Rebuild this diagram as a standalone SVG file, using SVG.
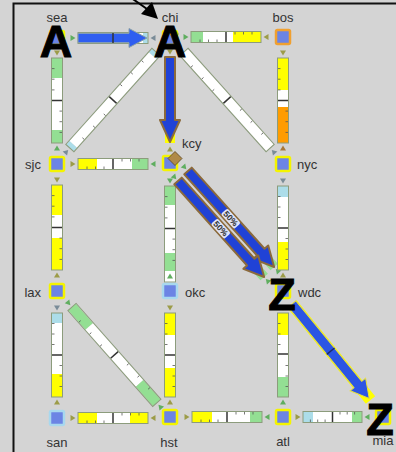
<svg xmlns="http://www.w3.org/2000/svg" xmlns:xlink="http://www.w3.org/1999/xlink" width="396" height="452" viewBox="0 0 396 452">
<style>
.bar{fill:none;stroke:#8c9c7c;stroke-width:1}
.y{fill:#ffff00}.w{fill:#ffffff}.g{fill:#93df93}.b{fill:#acdde9}.o{fill:#ff9c00}
.dv{stroke:#333;stroke-width:1.5}
.tk{stroke:#555;stroke-width:0.8;fill:none}
.tO{fill:#9c9c48}.tG{fill:#5fae5f}.tS{fill:#7a8c98}.tB{fill:#a87838}
.node{fill:#6c84e4;stroke:#f4f400;stroke-width:2.5}
.nb{stroke:#a8d8ee}.no{stroke:#f0a030}
.lbl{font-family:"Liberation Sans",Arial,sans-serif;font-size:13px;fill:#333}
.big{font-family:"Liberation Sans",Arial,sans-serif;font-weight:bold;font-size:45px;fill:#000;stroke:#000;stroke-width:1;text-anchor:middle}
.arr{fill:#2042d6;stroke:#8b6a3c;stroke-width:2;stroke-linejoin:round}
.pct{font-family:"Liberation Sans",Arial,sans-serif;font-size:8.5px;font-weight:bold;fill:#333;text-anchor:middle}
</style>
<defs>
<path id="tr" d="M-2.5,-3L2.5,0L-2.5,3Z"/>
</defs>
<rect x="0" y="0" width="396" height="452" fill="#d4d4d4"/>
<path d="M13.5,452V3.5H396" fill="none" stroke="#111" stroke-width="2"/>
<g id="connectors">
 <g id="l-sea-chi" transform="translate(78,38)">
  <rect class="w" x="0" y="-5" width="65" height="10"/><rect class="b" x="65" y="-5" width="5" height="10"/>
  <rect class="bar" x="0" y="-5.5" width="70" height="11"/>
  <use xlink:href="#tr" class="tG" x="-5"/><use xlink:href="#tr" class="tS" transform="translate(75,0) rotate(180)"/>
  <path d="M0,-4.7H51V-9.5L69,0L51,9.5V4.7H0Z" fill="#2f5ef0" stroke="#8aa0a8" stroke-width="1"/>
  <line class="dv" x1="35" y1="-5" x2="35" y2="5"/>
 </g>
 <g id="l-chi-bos" transform="translate(191,37)">
  <rect class="g" x="0" y="-5" width="12" height="10"/><rect class="w" x="12" y="-5" width="30" height="10"/><rect class="y" x="42" y="-5" width="28" height="10"/>
  <line class="dv" x1="35" y1="-5" x2="35" y2="5"/>
  <path class="tk" d="M9,5v-2.5M17.5,5v-2.5M26,5v-2.5M44,-5v2.5M52.5,-5v2.5M61,-5v2.5"/>
  <rect class="bar" x="0" y="-5.5" width="70" height="11"/>
  <use xlink:href="#tr" class="tG" x="-5"/><use xlink:href="#tr" class="tO" transform="translate(75,0) rotate(180)"/>
 </g>
 <g id="l-chi-sjc" transform="translate(156,52) rotate(131.9)">
  <rect class="b" x="0" y="-5" width="5" height="10"/><rect class="w" x="5" y="-5" width="119" height="10"/><rect class="b" x="124" y="-5" width="5" height="10"/>
  <line class="dv" x1="64.5" y1="-5" x2="64.5" y2="5"/>
  <path class="tk" d="M16,5v-2.5M32,5v-2.5M48,5v-2.5M81,-5v2.5M97,-5v2.5M113,-5v2.5"/>
  <rect class="bar" x="0" y="-5.5" width="129" height="11"/>
  <use xlink:href="#tr" class="tS" x="-5"/><use xlink:href="#tr" class="tS" transform="translate(134,0) rotate(180)"/>
 </g>
 <g id="l-chi-nyc" transform="translate(184,52) rotate(48.1)">
  <rect class="w" x="0" y="-5" width="129" height="10"/>
  <line class="dv" x1="64.5" y1="-5" x2="64.5" y2="5"/>
  <path class="tk" d="M16,5v-2.5M32,5v-2.5M48,5v-2.5M81,-5v2.5M97,-5v2.5M113,-5v2.5"/>
  <rect class="bar" x="0" y="-5.5" width="129" height="11"/>
  <use xlink:href="#tr" class="tS" x="-5"/><use xlink:href="#tr" class="tS" transform="translate(134,0) rotate(180)"/>
 </g>
 <g id="l-chi-kcy" transform="translate(170,57) rotate(90)">
  <rect class="y" x="0" y="-5" width="86" height="10"/>
  <use xlink:href="#tr" class="tO" x="-5"/><use xlink:href="#tr" class="tO" transform="translate(92,0) rotate(180)"/>
  <path class="arr" d="M0,-5H63V-10L85,0L63,10V5H0Z"/>
 </g>
 <g id="l-sea-sjc" transform="translate(57,58) rotate(90)">
  <rect class="g" x="0" y="-5" width="20" height="10"/><rect class="w" x="20" y="-5" width="52" height="10"/><rect class="g" x="72" y="-5" width="13" height="10"/>
  <line class="dv" x1="42.5" y1="-5" x2="42.5" y2="5"/>
  <path class="tk" d="M10.6,5v-2.5M21.2,5v-2.5M31.9,5v-2.5M53.1,-5v2.5M63.7,-5v2.5M74.4,-5v2.5"/>
  <rect class="bar" x="0" y="-5.5" width="85" height="11"/>
  <use xlink:href="#tr" class="tO" x="-5"/><use xlink:href="#tr" class="tG" transform="translate(90,0) rotate(180)"/>
 </g>
 <g id="l-bos-nyc" transform="translate(283,58) rotate(90)">
  <rect class="y" x="0" y="-5" width="32" height="10"/><rect class="w" x="32" y="-5" width="17" height="10"/><rect class="o" x="49" y="-5" width="36" height="10"/>
  <line class="dv" x1="42.5" y1="-5" x2="42.5" y2="5"/>
  <path class="tk" d="M10.6,5v-2.5M21.2,5v-2.5M31.9,5v-2.5M53.1,-5v2.5M63.7,-5v2.5M74.4,-5v2.5"/>
  <rect class="bar" x="0" y="-5.5" width="85" height="11"/>
  <use xlink:href="#tr" class="tO" x="-5"/><use xlink:href="#tr" class="tB" transform="translate(90,0) rotate(180)"/>
 </g>
 <g id="l-sjc-kcy" transform="translate(78,164)">
  <rect class="y" x="0" y="-5" width="19" height="10"/><rect class="w" x="19" y="-5" width="35" height="10"/><rect class="g" x="54" y="-5" width="16" height="10"/>
  <line class="dv" x1="35" y1="-5" x2="35" y2="5"/>
  <path class="tk" d="M9,5v-2.5M17.5,5v-2.5M26,5v-2.5M44,-5v2.5M52.5,-5v2.5M61,-5v2.5"/>
  <rect class="bar" x="0" y="-5.5" width="70" height="11"/>
  <use xlink:href="#tr" class="tO" x="-5"/><use xlink:href="#tr" class="tG" transform="translate(75,0) rotate(180)"/>
 </g>
 <g id="l-sjc-lax" transform="translate(57,185) rotate(90)">
  <rect class="y" x="0" y="-5" width="30" height="10"/><rect class="w" x="30" y="-5" width="23" height="10"/><rect class="y" x="53" y="-5" width="32" height="10"/>
  <line class="dv" x1="42.5" y1="-5" x2="42.5" y2="5"/>
  <path class="tk" d="M10.6,5v-2.5M21.2,5v-2.5M31.9,5v-2.5M53.1,-5v2.5M63.7,-5v2.5M74.4,-5v2.5"/>
  <rect class="bar" x="0" y="-5.5" width="85" height="11"/>
  <use xlink:href="#tr" class="tO" x="-5"/><use xlink:href="#tr" class="tO" transform="translate(90,0) rotate(180)"/>
 </g>
 <g id="l-kcy-okc" transform="translate(170,186) rotate(90)">
  <rect class="g" x="0" y="-5" width="19" height="10"/><rect class="w" x="19" y="-5" width="48" height="10"/><rect class="g" x="67" y="-5" width="18" height="10"/><rect class="w" x="85" y="-5" width="11" height="10"/>
  <line class="dv" x1="42.5" y1="-5" x2="42.5" y2="5"/>
  <path class="tk" d="M10.6,5v-2.5M21.2,5v-2.5M31.9,5v-2.5M53.1,-5v2.5M63.7,-5v2.5M74.4,-5v2.5"/>
  <rect class="bar" x="0" y="-5.5" width="96" height="11"/>
  <use xlink:href="#tr" class="tG" x="-5"/><use xlink:href="#tr" class="tG" transform="translate(90,0) rotate(180)"/>
 </g>
 <g id="l-kcy-wdc-1" transform="translate(188,171) rotate(48.1)">
  <rect class="g" x="105" y="-5" width="24" height="10"/>
  <use xlink:href="#tr" class="tG" x="-5"/><use xlink:href="#tr" class="tG" transform="translate(134,0) rotate(180)"/>
  <path class="arr" d="M0,-5H109V-10L129,0L109,10V5H0Z"/>
  <rect x="54" y="-4.5" width="20" height="9" rx="2" fill="#fff" opacity="0.85"/>
  <text class="pct" x="64" y="3">50%</text>
 </g>
 <g id="l-kcy-wdc-2" transform="translate(178,181) rotate(48.1)">
  <rect class="g" x="105" y="-5" width="24" height="10"/>
  <use xlink:href="#tr" class="tG" x="-5"/><use xlink:href="#tr" class="tG" transform="translate(134,0) rotate(180)"/>
  <path class="arr" d="M0,-5H109V-10L129,0L109,10V5H0Z"/>
  <rect x="54" y="-4.5" width="20" height="9" rx="2" fill="#fff" opacity="0.85"/>
  <text class="pct" x="64" y="3">50%</text>
 </g>
 <g id="l-nyc-wdc" transform="translate(283,186) rotate(90)">
  <rect class="b" x="0" y="-5" width="11" height="10"/><rect class="w" x="11" y="-5" width="45" height="10"/><rect class="y" x="56" y="-5" width="28" height="10"/>
  <line class="dv" x1="42" y1="-5" x2="42" y2="5"/>
  <path class="tk" d="M10.5,5v-2.5M21,5v-2.5M31.5,5v-2.5M52.5,-5v2.5M63,-5v2.5M73.5,-5v2.5"/>
  <rect class="bar" x="0" y="-5.5" width="84" height="11"/>
  <use xlink:href="#tr" class="tS" x="-5"/><use xlink:href="#tr" class="tO" transform="translate(89,0) rotate(180)"/>
 </g>
 <g id="l-lax-san" transform="translate(57,313) rotate(90)">
  <rect class="b" x="0" y="-5" width="10" height="10"/><rect class="w" x="10" y="-5" width="51" height="10"/><rect class="y" x="61" y="-5" width="23" height="10"/>
  <line class="dv" x1="42" y1="-5" x2="42" y2="5"/>
  <path class="tk" d="M10.5,5v-2.5M21,5v-2.5M31.5,5v-2.5M52.5,-5v2.5M63,-5v2.5M73.5,-5v2.5"/>
  <rect class="bar" x="0" y="-5.5" width="84" height="11"/>
  <use xlink:href="#tr" class="tS" x="-5"/><use xlink:href="#tr" class="tO" transform="translate(89,0) rotate(180)"/>
 </g>
 <g id="l-lax-hst" transform="translate(72,307) rotate(48.5)">
  <rect class="g" x="0" y="-5" width="26" height="10"/><rect class="w" x="26" y="-5" width="76" height="10"/><rect class="g" x="102" y="-5" width="26" height="10"/>
  <line class="dv" x1="64" y1="-5" x2="64" y2="5"/>
  <path class="tk" d="M16,5v-2.5M32,5v-2.5M48,5v-2.5M80,-5v2.5M96,-5v2.5M112,-5v2.5"/>
  <rect class="bar" x="0" y="-5.5" width="128" height="11"/>
  <use xlink:href="#tr" class="tG" x="-5"/><use xlink:href="#tr" class="tG" transform="translate(133,0) rotate(180)"/>
 </g>
 <g id="l-okc-hst" transform="translate(170,313) rotate(90)">
  <rect class="y" x="0" y="-5" width="22" height="10"/><rect class="w" x="22" y="-5" width="33" height="10"/><rect class="y" x="55" y="-5" width="29" height="10"/>
  <line class="dv" x1="42" y1="-5" x2="42" y2="5"/>
  <path class="tk" d="M10.5,5v-2.5M21,5v-2.5M31.5,5v-2.5M52.5,-5v2.5M63,-5v2.5M73.5,-5v2.5"/>
  <rect class="bar" x="0" y="-5.5" width="84" height="11"/>
  <use xlink:href="#tr" class="tO" x="-5"/><use xlink:href="#tr" class="tO" transform="translate(89,0) rotate(180)"/>
 </g>
 <g id="l-wdc-atl" transform="translate(283,313) rotate(90)">
  <rect class="y" x="0" y="-5" width="22" height="10"/><rect class="w" x="22" y="-5" width="42" height="10"/><rect class="g" x="64" y="-5" width="20" height="10"/>
  <line class="dv" x1="41" y1="-5" x2="41" y2="5"/>
  <path class="tk" d="M10.5,5v-2.5M21,5v-2.5M31.5,5v-2.5M52.5,-5v2.5M63,-5v2.5M73.5,-5v2.5"/>
  <rect class="bar" x="0" y="-5.5" width="84" height="11"/>
  <use xlink:href="#tr" class="tO" x="-5"/><use xlink:href="#tr" class="tG" transform="translate(89,0) rotate(180)"/>
 </g>
 <g id="l-san-hst" transform="translate(78,418)">
  <rect class="y" x="0" y="-5" width="19" height="10"/><rect class="w" x="19" y="-5" width="33" height="10"/><rect class="y" x="52" y="-5" width="18" height="10"/>
  <line class="dv" x1="35" y1="-5" x2="35" y2="5"/>
  <path class="tk" d="M9,5v-2.5M17.5,5v-2.5M26,5v-2.5M44,-5v2.5M52.5,-5v2.5M61,-5v2.5"/>
  <rect class="bar" x="0" y="-5.5" width="70" height="11"/>
  <use xlink:href="#tr" class="tO" x="-5"/><use xlink:href="#tr" class="tO" transform="translate(75,0) rotate(180)"/>
 </g>
 <g id="l-hst-atl" transform="translate(192,417)">
  <rect class="y" x="0" y="-5" width="20" height="10"/><rect class="w" x="20" y="-5" width="38" height="10"/><rect class="g" x="58" y="-5" width="12" height="10"/>
  <line class="dv" x1="35" y1="-5" x2="35" y2="5"/>
  <path class="tk" d="M9,5v-2.5M17.5,5v-2.5M26,5v-2.5M44,-5v2.5M52.5,-5v2.5M61,-5v2.5"/>
  <rect class="bar" x="0" y="-5.5" width="70" height="11"/>
  <use xlink:href="#tr" class="tO" x="-5"/><use xlink:href="#tr" class="tG" transform="translate(75,0) rotate(180)"/>
 </g>
 <g id="l-atl-mia" transform="translate(303,417)">
  <rect class="b" x="0" y="-5" width="10" height="10"/><rect class="w" x="10" y="-5" width="39" height="10"/><rect class="g" x="49" y="-5" width="10" height="10"/>
  <line class="dv" x1="29.5" y1="-5" x2="29.5" y2="5"/>
  <path class="tk" d="M7.4,5v-2.5M14.7,5v-2.5M22.1,5v-2.5M37,-5v2.5M44.2,-5v2.5M51.6,-5v2.5"/>
  <rect class="bar" x="0" y="-5.5" width="59" height="11"/>
  <use xlink:href="#tr" class="tO" x="-5"/><use xlink:href="#tr" class="tG" transform="translate(64,0) rotate(180)"/>
 </g>
 <g id="l-wdc-mia" transform="translate(292,304) rotate(50.7)">
  <rect class="y" x="0" y="-6" width="124" height="12"/>
  <path d="M0,-5H104V-10L122,0L104,10V5H0Z" fill="#2c55e4" stroke="#e8e040" stroke-width="1"/>
  <line x1="61" y1="-5" x2="61" y2="5" stroke="#1a2a70" stroke-width="1.5"/>
 </g>
</g>
<g id="nodes">
 <g id="n-sea"><rect class="node" x="50" y="31" width="14" height="14" rx="1.5"/><text class="lbl" x="57" y="22" text-anchor="middle">sea</text></g>
 <g id="n-chi"><rect class="node" x="163" y="31" width="14" height="14" rx="1.5"/><text class="lbl" x="170" y="22" text-anchor="middle">chi</text><path d="M174,29.5L178.5,34L174,38.5L169.5,34Z" fill="#f2e600" stroke="#a09020" stroke-width="0.6"/></g>
 <g id="n-bos"><rect class="node no" x="276" y="30" width="14" height="14" rx="1.5"/><text class="lbl" x="283" y="22" text-anchor="middle">bos</text></g>
 <g id="n-sjc"><rect class="node" x="50" y="157" width="14" height="14" rx="1.5"/><text class="lbl" x="41" y="169" text-anchor="end">sjc</text></g>
 <g id="n-kcy"><rect class="node" x="163" y="156" width="14" height="14" rx="1.5"/><text class="lbl" x="182" y="148">kcy</text><path d="M175,151.5L182,158.5L175,165.5L168,158.5Z" fill="#b08a48" stroke="#5a4520" stroke-width="0.8"/></g>
 <g id="n-nyc"><rect class="node" x="276" y="157" width="14" height="14" rx="1.5"/><text class="lbl" x="297" y="169">nyc</text></g>
 <g id="n-lax"><rect class="node" x="50" y="284" width="14" height="14" rx="1.5"/><text class="lbl" x="41" y="297" text-anchor="end">lax</text></g>
 <g id="n-okc"><rect class="node nb" x="163" y="284" width="14" height="14" rx="1.5"/><text class="lbl" x="185" y="297">okc</text></g>
 <g id="n-wdc"><rect class="node" x="276" y="284" width="14" height="14" rx="1.5"/><text class="lbl" x="298" y="297">wdc</text></g>
 <g id="n-san"><rect class="node nb" x="50" y="411" width="14" height="14" rx="1.5"/><text class="lbl" x="57" y="447" text-anchor="middle">san</text></g>
 <g id="n-hst"><rect class="node" x="163" y="410" width="14" height="14" rx="1.5"/><text class="lbl" x="169" y="447" text-anchor="middle">hst</text></g>
 <g id="n-atl"><rect class="node" x="276" y="410" width="14" height="14" rx="1.5"/><text class="lbl" x="283" y="446" text-anchor="middle">atl</text></g>
 <g id="n-mia"><rect class="node" x="376" y="410" width="14" height="14" rx="1.5"/><text class="lbl" x="383" y="445" text-anchor="middle">mia</text></g>
</g>
<g id="marks">
 <text class="big" x="56" y="57">A</text>
 <text class="big" x="170" y="57">A</text>
 <text class="big" x="282" y="310">Z</text>
 <text class="big" x="380" y="435">Z</text>
 <line x1="130" y1="-3" x2="147" y2="9" stroke="#000" stroke-width="2"/>
 <path d="M158,19L141,14L152,2Z" fill="#000"/>
</g>
</svg>
